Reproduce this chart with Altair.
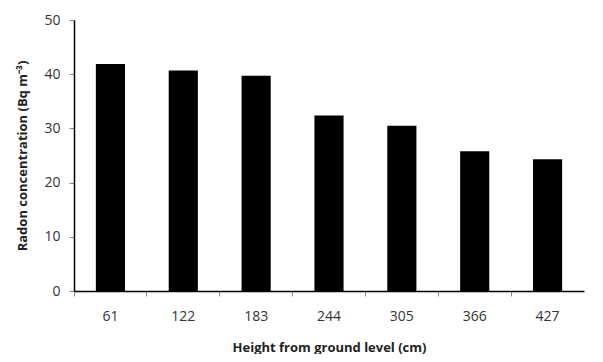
import altair as alt
import pandas as pd

heights = ["61", "122", "183", "244", "305", "366", "427"]
radon = [41.9, 40.7, 39.7, 32.4, 30.5, 25.8, 24.3]

df = pd.DataFrame({"height": heights, "radon": radon})

font = "Open Sans"

chart = alt.Chart(df).mark_bar(
    color="#000000", width=alt.RelativeBandSize(0.4)
).encode(
    x=alt.X(
        "height:O",
        sort=heights,
        scale=alt.Scale(paddingInner=0, paddingOuter=0),
        axis=alt.Axis(
            title="Height from ground level (cm)",
            labelAngle=0,
            bandPosition=0,
            domainColor="#000000",
            domainWidth=1.5,
            tickColor="#888888",
            tickSize=5,
            labelPadding=13,
            labelFont=font,
            labelFontSize=14,
            labelColor="#333333",
            titleFont=font,
            titleFontSize=13,
            titleFontWeight="bold",
            titleColor="#222222",
            titlePadding=18,
        ),
    ),
    y=alt.Y(
        "radon:Q",
        scale=alt.Scale(domain=[0, 50], nice=False),
        axis=alt.Axis(
            title="Radon concentration (Bq m\u207b\u00b3)",
            values=[0, 10, 20, 30, 40, 50],
            grid=False,
            domainColor="#000000",
            domainWidth=1.5,
            tickColor="#888888",
            tickSize=5,
            labelPadding=9,
            labelFont=font,
            labelFontSize=14,
            labelColor="#333333",
            titleFont=font,
            titleFontSize=13,
            titleFontWeight="bold",
            titleColor="#222222",
            titlePadding=14,
        ),
    ),
).properties(
    width=510,
    height=271,
    padding={"left": 66, "top": 12, "right": 11, "bottom": 63},
    autosize=alt.AutoSizeParams(type="none"),
    background="white",
).configure_view(stroke=None)

chart.save("out.html", embed_options={"renderer": "svg", "actions": False})
